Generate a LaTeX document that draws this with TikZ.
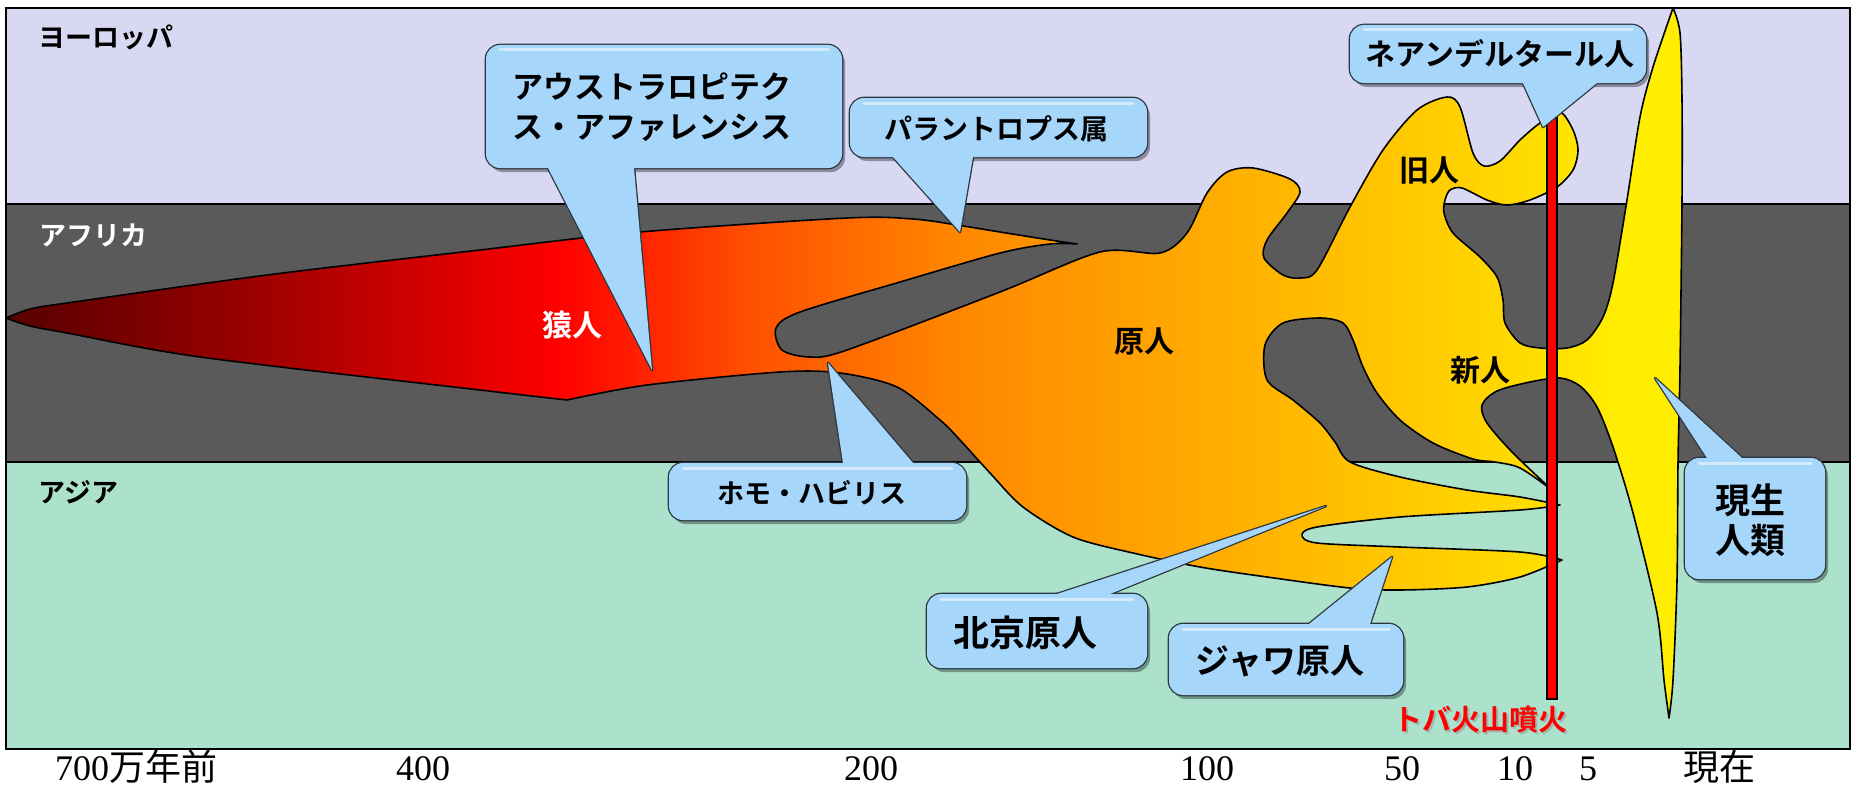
\documentclass[tikz,border=0pt]{standalone}
\usepackage{fontspec}
\setmainfont{Noto Sans CJK JP}
\newfontfamily\jpb{Noto Sans CJK JP Bold}
\newfontfamily\jpr{Noto Sans CJK JP}
\newfontfamily\tms{Liberation Serif}
\usetikzlibrary{calc}
\definecolor{eu}{RGB}{216,216,243}
\definecolor{af}{RGB}{90,90,90}
\definecolor{as}{RGB}{172,226,203}
\definecolor{cob}{RGB}{166,214,250}
\definecolor{cl}{RGB}{45,55,65}
\definecolor{c0}{RGB}{88,0,0}
\definecolor{c1}{RGB}{140,0,0}
\definecolor{c2}{RGB}{255,0,0}
\definecolor{c3}{RGB}{255,80,0}
\definecolor{c4}{RGB}{255,134,0}
\definecolor{c5}{RGB}{255,178,0}
\definecolor{c6}{RGB}{255,215,0}
\definecolor{c7}{RGB}{255,238,0}
\pgfdeclarehorizontalshading{evo}{100bp}{color(0bp)=(c0); color(25bp)=(c0); color(30.8bp)=(c1); color(41.5bp)=(c2); color(47.2bp)=(c3); color(53.2bp)=(c4); color(62.1bp)=(c5); color(69.6bp)=(c6); color(73.2bp)=(c7); color(75bp)=(c7); color(100bp)=(c7)}
\tikzset{
  coline/.style={draw=cl,line width=2.6pt,line join=round},
  cofill/.style={fill=cob},
  cotext/.style={font=\jpb,text=black,inner sep=0pt},
  region/.style={font=\jpb\fontsize{27}{30}\selectfont,inner sep=0pt,anchor=west},
  era/.style={font=\jpb\fontsize{30}{34}\selectfont,inner sep=0pt},
  axis/.style={inner sep=0pt,anchor=base,font=\fontsize{36}{40}\selectfont}
}
% #1,#2 = top-left x,y ; #3,#4 = bottom-right x,y ; #5,#6 = wedge base x's ; #7 = wedge base y ; #8,#9 = tip
\newcommand\callout[9]{%
  \fill[black,opacity=.35,rounded corners=14pt] (#1+3,#2+4) rectangle (#3+3,#4+4);
  \draw[coline] ($(#5,#7)!-24pt!(#8,#9)$) -- (#8,#9) -- ($(#6,#7)!-24pt!(#8,#9)$) -- cycle;
  \draw[coline,rounded corners=14pt] (#1,#2) rectangle (#3,#4);
  \fill[cofill] ($(#5,#7)!-24pt!(#8,#9)$) -- (#8,#9) -- ($(#6,#7)!-24pt!(#8,#9)$) -- cycle;
  \fill[cofill,rounded corners=14pt] (#1,#2) rectangle (#3,#4);
  \draw[white,opacity=.5,line width=3pt,line cap=round] (#1+14,#2+5) -- (#3-14,#2+5);
}
\def\bodypath{(6,318)
 -- plot[smooth,tension=.5] coordinates {(6,318) (30,309) (67,303) (267,275) (480,250) (640,232) (847,218) (913,219) (957,225) (1000,232) (1050,240) (1077,244)}
 -- plot[smooth,tension=.5] coordinates {(1077,244) (1050,244) (1000,253) (900,282) (800,312) (776,328) (782,350) (810,357) (847,350) (1000,292) (1100,252) (1160,253) (1187,233) (1207,193) (1227,172) (1253,168) (1290,179) (1300,192) (1287,213) (1267,240) (1264,258) (1283,275) (1300,278) (1317,270) (1350,207) (1383,150) (1417,110) (1447,97) (1460,107) (1473,153) (1484,166) (1500,161) (1520,140) (1540,123) (1560,112) (1573,130) (1578,150) (1573,170) (1557,187) (1530,200) (1507,205) (1487,200) (1462,188) (1450,190) (1445,200) (1444,213) (1453,233) (1480,257) (1497,277) (1503,300) (1505,323) (1520,343) (1540,348) (1567,348) (1587,340) (1603,317) (1613,283) (1627,200) (1640,117) (1653,67) (1673,8)}
 -- plot[smooth,tension=.5] coordinates {(1673,8) (1680,33) (1682,100) (1682,200) (1680,367) (1678,463) (1677,580) (1673,680) (1669,718)}
 -- plot[smooth,tension=.5] coordinates {(1669,718) (1664,680) (1657,613) (1633,513) (1613,447) (1597,407) (1580,386) (1560,378) (1530,382) (1497,391) (1482,405) (1487,423) (1513,453) (1552,490)}
 -- plot[smooth,tension=.5] coordinates {(1552,490) (1520,468) (1495,462) (1473,459) (1433,443) (1400,420) (1377,393) (1363,367) (1353,340) (1343,323) (1320,318) (1283,323) (1265,345) (1267,380) (1293,400) (1320,423) (1335,442) (1350,462) (1400,477) (1467,490) (1520,497) (1560,505)}
 -- plot[smooth,tension=.5] coordinates {(1560,505) (1520,510) (1400,517) (1317,527) (1302,535) (1317,543) (1400,547) (1520,552) (1562,560)}
 -- plot[smooth,tension=.5] coordinates {(1562,560) (1520,577) (1467,587) (1400,590) (1350,588) (1267,577) (1200,567) (1133,553) (1073,537) (1023,507) (990,473) (960,440) (940,420) (897,387) (840,373) (780,372) (647,385) (567,400)}
 -- plot[smooth,tension=.5] coordinates {(567,400) (480,390) (200,357) (67,333) (30,326) (6,318)}
 -- cycle}
\begin{document}
\begin{tikzpicture}[x=1pt,y=-1pt]
\useasboundingbox (0,0) rectangle (1874,792);
\fill[white] (0,0) rectangle (1874,792);
% bands
\fill[eu] (6,8) rectangle (1850,204);
\fill[af] (6,204) rectangle (1850,462);
\fill[as] (6,462) rectangle (1850,749);
\draw[line width=2pt] (6,204) -- (1850,204);
\draw[line width=2pt] (6,462) -- (1850,462);
% body
\begin{scope}
  \clip \bodypath;
  \shade[shading=evo] (6,0) rectangle (1682,792);
\end{scope}
\draw[line width=1.6pt,line join=round] \bodypath;
% Toba line
\draw[line width=1.2pt,fill=red] (1547,118) rectangle (1557,699);
% region labels
\node[region] (eur) at (38,37) {ヨーロッパ};
\node[region,text=white] (afr) at (39,235) {アフリカ};
\node[region] (asi) at (38,492) {アジア};
% era labels
\node[era,text=white] (saru) at (572,325) {猿人};
\node[era] (gen) at (1144,341) {原人};
\node[era] (kyu) at (1429,170) {旧人};
\node[era] (shin) at (1480,370) {新人};
% callouts
\callout{486}{45}{842}{168}{548}{634}{168}{652}{370}
\node[cotext,anchor=west,align=left,font=\jpb\fontsize{31}{40}\selectfont] (aus) at (512,107) {アウストラロピテク\\ス・アファレンシス};
\callout{850}{98}{1147}{157}{893}{973}{157}{960}{232}
\node[cotext,font=\jpb\fontsize{28}{32}\selectfont] (para) at (996,129) {パラントロプス属};
\callout{1350}{25}{1646}{83}{1523}{1597}{83}{1543}{127}
\node[cotext,font=\jpb\fontsize{30}{34}\selectfont] (nean) at (1500,54) {ネアンデルタール人};
\callout{669}{463}{966}{520}{843}{913}{463}{828}{363}
\node[cotext,font=\jpb\fontsize{27}{30}\selectfont] (habi) at (812,493) {ホモ・ハビリス};
\callout{927}{594}{1147}{668}{1057}{1110}{594}{1326}{506}
\node[cotext,font=\jpb\fontsize{36}{40}\selectfont] (peki) at (1025,633) {北京原人};
\callout{1169}{624}{1403}{695}{1309}{1370}{624}{1392}{557}
\node[cotext,font=\jpb\fontsize{34}{38}\selectfont] (java) at (1280,661) {ジャワ原人};
\callout{1685}{458}{1825}{579}{1707}{1742}{458}{1655}{378}
\node[cotext,align=center,font=\jpb\fontsize{35}{40}\selectfont] (sap) at (1750,520) {現生\\人類};
% Toba label
\node[inner sep=0pt,font=\jpb\fontsize{29}{32}\selectfont,text=black!40,opacity=.6] at (1482,722) {トバ火山噴火};
\node[inner sep=0pt,font=\jpb\fontsize{29}{32}\selectfont,text=red] (toba) at (1480,720) {トバ火山噴火};
% frame
\draw[line width=2pt] (6,8) rectangle (1850,749);
% axis
\node[axis] (t700) at (136,780) {{\tms 700}{\jpr 万年前}};
\node[axis,font=\tms\fontsize{36}{40}\selectfont] (t400) at (423,780) {400};
\node[axis,font=\tms\fontsize{36}{40}\selectfont] (t200) at (871,780) {200};
\node[axis,font=\tms\fontsize{36}{40}\selectfont] (t100) at (1207,780) {100};
\node[axis,font=\tms\fontsize{36}{40}\selectfont] (t50) at (1402,780) {50};
\node[axis,font=\tms\fontsize{36}{40}\selectfont] (t10) at (1515,780) {10};
\node[axis,font=\tms\fontsize{36}{40}\selectfont] (t5) at (1588,780) {5};
\node[axis,font=\jpr\fontsize{36}{40}\selectfont] (now) at (1719,780) {現在};
\end{tikzpicture}
\end{document}
